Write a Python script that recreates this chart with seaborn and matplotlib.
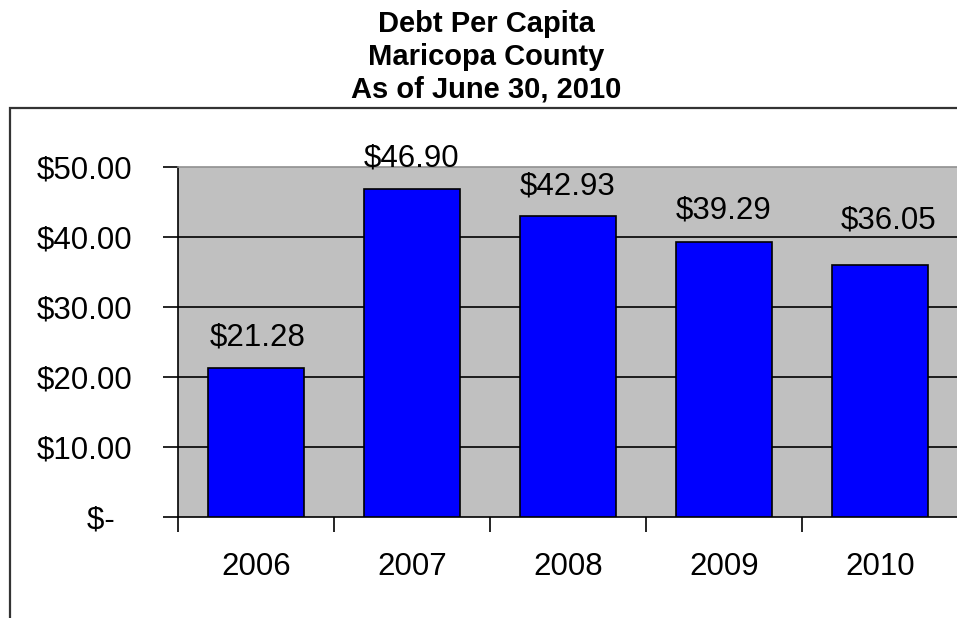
import matplotlib
matplotlib.use("Agg")
import matplotlib.pyplot as plt
import matplotlib.patches as mpatches
import seaborn as sns
import pandas as pd

years = ["2006", "2007", "2008", "2009", "2010"]
debt_per_capita = [21.28, 46.90, 42.93, 39.29, 36.05]
title_lines = ["Debt Per Capita", "Maricopa County", "As of June 30, 2010"]
y_ticks = [0, 10, 20, 30, 40, 50]
y_tick_labels = ["$-  ", "$10.00", "$20.00", "$30.00", "$40.00", "$50.00"]

# label offsets (points) above each bar, as placed in the source chart
label_dx = [1, 0, 0, 0, 6]
label_dy = [16, 16, 16, 17, 26]

sns.set_theme(style="white")
plt.rcParams['font.family'] = ['Liberation Sans', 'DejaVu Sans']

df = pd.DataFrame({"year": years, "value": debt_per_capita})

W, H = 957, 618
fig = plt.figure(figsize=(W / 100, H / 100), dpi=100)
ax = fig.add_axes([178 / W, 1 - 517 / H, (958 - 178) / W, (517 - 167) / H])
ax.set_facecolor("#C0C0C0")

sns.barplot(data=df, x="year", y="value", color="#0000FF", width=0.62,
            edgecolor="black", linewidth=1.2, saturation=1, ax=ax, zorder=3)
for p in ax.patches:
    p.set_facecolor("#0000FF")

ax.set_xlim(-0.5, len(years) - 0.5)
ax.set_ylim(0, 50)
ax.set_xlabel("")
ax.set_ylabel("")

ax.set_yticks(y_ticks)
ax.set_yticklabels(y_tick_labels, fontsize=22.5, color="black")
for y in y_ticks[1:-1]:
    ax.axhline(y, color="black", linewidth=1.2, zorder=1)

# x ticks at category boundaries, labels at centres
ax.set_xticks([i - 0.5 for i in range(len(years) + 1)])
ax.set_xticklabels([])
ax.set_xticks(range(len(years)), minor=True)
ax.set_xticklabels(years, minor=True, fontsize=22.5, color="black")
ax.tick_params(axis="x", which="major", direction="out", length=11, width=1.2, color="black", bottom=True)
ax.tick_params(axis="x", which="minor", length=0, pad=25)
ax.tick_params(axis="y", which="major", direction="out", length=11, width=1.2, color="black", left=True, pad=22)

for side in ["left", "bottom"]:
    ax.spines[side].set_color("black")
    ax.spines[side].set_linewidth(1.2)
ax.spines["top"].set_color("#909090")
ax.spines["top"].set_linewidth(1.2)
ax.spines["right"].set_visible(False)

for i, v in enumerate(debt_per_capita):
    ax.annotate(f"${v:.2f}", xy=(i, v), xytext=(label_dx[i], label_dy[i]), textcoords="offset points",
                ha="center", va="baseline", fontsize=22.5, color="black",
                annotation_clip=False, zorder=4)

# outer chart frame
frame = mpatches.Rectangle((10 / W, -0.2), 1.2, 1.2 - 108 / H, transform=fig.transFigure,
                           fill=False, edgecolor="#333333", linewidth=1.6)
fig.patches.append(frame)

baselines = [32, 65, 98]
for line, b in zip(title_lines, baselines):
    fig.text(486 / W, 1 - b / H, line, ha="center", va="baseline",
             fontsize=21, fontweight="bold", color="black")

fig.savefig("out.png", dpi=100)
